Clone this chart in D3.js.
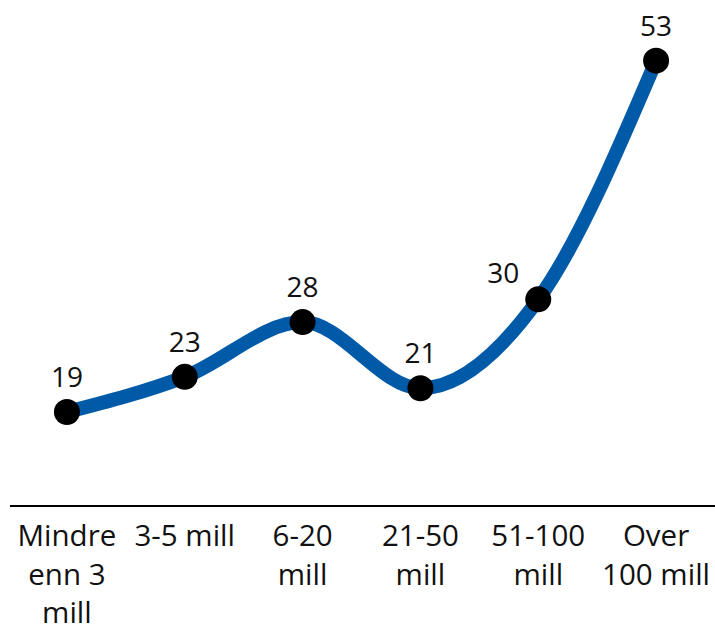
<!DOCTYPE html>
<html>
<head>
<meta charset="utf-8">
<script src="https://cdn.jsdelivr.net/npm/d3@7"></script>
<style>
  html, body { margin: 0; padding: 0; background: #fff; }
  svg { display: block; }
  text { font-family: "Open Sans", Roboto, sans-serif; }
</style>
</head>
<body>
<svg id="chart" width="715" height="627"></svg>
<script>
// ---- data ----
const categories = ["Mindre enn 3 mill", "3-5 mill", "6-20 mill", "21-50 mill", "51-100 mill", "Over 100 mill"];
const tickLines = [["Mindre", "enn 3", "mill"], ["3-5 mill"], ["6-20", "mill"], ["21-50", "mill"], ["51-100", "mill"], ["Over", "100 mill"]];
const values = [19, 22.4, 27.7, 21.3, 29.9, 53];
const valueLabels = ["19", "23", "28", "21", "30", "53"];
const yDomain = [10, 55];

// ---- drawing ----
const svg = d3.select("#chart");
const x = d3.scaleBand().domain(categories).range([8, 715]);
const y = d3.scaleLinear().domain(yDomain).range([505, 40]);
const cx = d => x(d) + x.bandwidth() / 2;

const data = categories.map((c, i) => ({ c, v: values[i], label: valueLabels[i], lines: tickLines[i], i }));

// axis baseline
svg.append("line")
  .attr("x1", 10).attr("x2", 715)
  .attr("y1", y(yDomain[0]) + 1).attr("y2", y(yDomain[0]) + 1)
  .attr("stroke", "#000").attr("stroke-width", 2);

// tick labels
const ticks = svg.append("g");
data.forEach(d => {
  const t = ticks.append("text")
    .attr("x", cx(d.c))
    .attr("y", 546)
    .attr("text-anchor", "middle")
    .attr("font-size", 29.5)
    .attr("fill", "#111");
  d.lines.forEach((ln, i) => {
    t.append("tspan").attr("x", cx(d.c)).attr("dy", i === 0 ? 0 : 38.5).text(ln);
  });
});

// line
const line = d3.line().x(d => cx(d.c)).y(d => y(d.v)).curve(d3.curveMonotoneX);
svg.append("path")
  .datum(data)
  .attr("d", line)
  .attr("fill", "none")
  .attr("stroke", "#005AA7")
  .attr("stroke-width", 14)
  .attr("stroke-linecap", "butt");

// dots
svg.append("g").selectAll("circle").data(data).join("circle")
  .attr("cx", d => cx(d.c)).attr("cy", d => y(d.v)).attr("r", 13)
  .attr("fill", "#000");

// value labels (the one sitting on the steep rise is nudged left)
svg.append("g").selectAll("text").data(data).join("text")
  .attr("x", d => cx(d.c) + (d.i === 4 ? -35 : 0))
  .attr("y", d => y(d.v) - (d.i === 4 ? 16 : 25))
  .attr("text-anchor", "middle")
  .attr("font-size", 28)
  .attr("fill", "#111")
  .text(d => d.label);
</script>
</body>
</html>
